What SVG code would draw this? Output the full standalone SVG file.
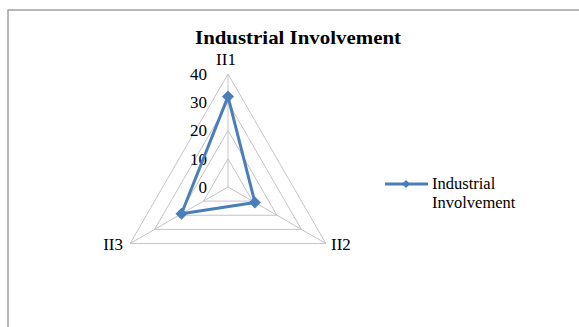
<svg xmlns="http://www.w3.org/2000/svg" width="579" height="327" viewBox="0 0 579 327">
<style>
.t{font-family:"Liberation Serif","Times New Roman",serif;fill:#000}
.lbl{font-size:17px}
.grid{fill:none;stroke:#c4c4c4;stroke-width:1}
.series{fill:none;stroke:#4a7ebb;stroke-width:3;stroke-linejoin:round}
.mk{fill:#4a7ebb}
</style>
<defs>
<path id="dia" d="M0,-6 L6,0 L0,6 L-6,0 Z"/>
</defs>
<rect x="0" y="0" width="579" height="327" fill="#fff"/>
<rect x="8" y="10" width="580" height="330" fill="#fff" stroke="#a0a0a0" stroke-width="1.5"/>
<g id="title"><text class="t" x="298" y="44" font-size="19" font-weight="bold" text-anchor="middle" textLength="206" lengthAdjust="spacingAndGlyphs">Industrial Involvement</text></g>
<g id="grid">
<polygon class="grid" points="228,74 325.9,243.5 130.1,243.5"/>
<polygon class="grid" points="228,102.25 301.4,229.4 154.6,229.4"/>
<polygon class="grid" points="228,130.5 276.9,215.25 179.1,215.25"/>
<polygon class="grid" points="228,158.75 252.5,201.1 203.5,201.1"/>
<line class="grid" x1="228" y1="187" x2="228" y2="74"/>
<line class="grid" x1="228" y1="187" x2="325.9" y2="243.5"/>
<line class="grid" x1="228" y1="187" x2="130.1" y2="243.5"/>
</g>
<g id="axis-values" class="t lbl" text-anchor="end">
<text x="207" y="80">40</text>
<text x="207" y="108">30</text>
<text x="207" y="136">20</text>
<text x="207" y="165">10</text>
<text x="207" y="193">0</text>
</g>
<g id="II1"><text class="t lbl" x="226" y="65" text-anchor="middle">II1</text></g>
<g id="II2"><text class="t lbl" x="331" y="250">II2</text></g>
<g id="II3"><text class="t lbl" x="123" y="250" text-anchor="end">II3</text></g>
<g id="connectors">
<polygon class="series" points="228,96.6 254.9,202.5 181.5,213.8"/>
<use href="#dia" class="mk" x="228" y="96.6"/>
<use href="#dia" class="mk" x="254.9" y="202.5"/>
<use href="#dia" class="mk" x="181.5" y="213.8"/>
</g>
<g id="legend">
<line x1="385" y1="184" x2="428" y2="184" stroke="#4a7ebb" stroke-width="3"/>
<path d="M406,180 L410,184 L406,188 L402,184 Z" class="mk"/>
<text class="t" x="432" y="189" font-size="16.5">Industrial</text>
<text class="t" x="432" y="208" font-size="16.5">Involvement</text>
</g>
</svg>
